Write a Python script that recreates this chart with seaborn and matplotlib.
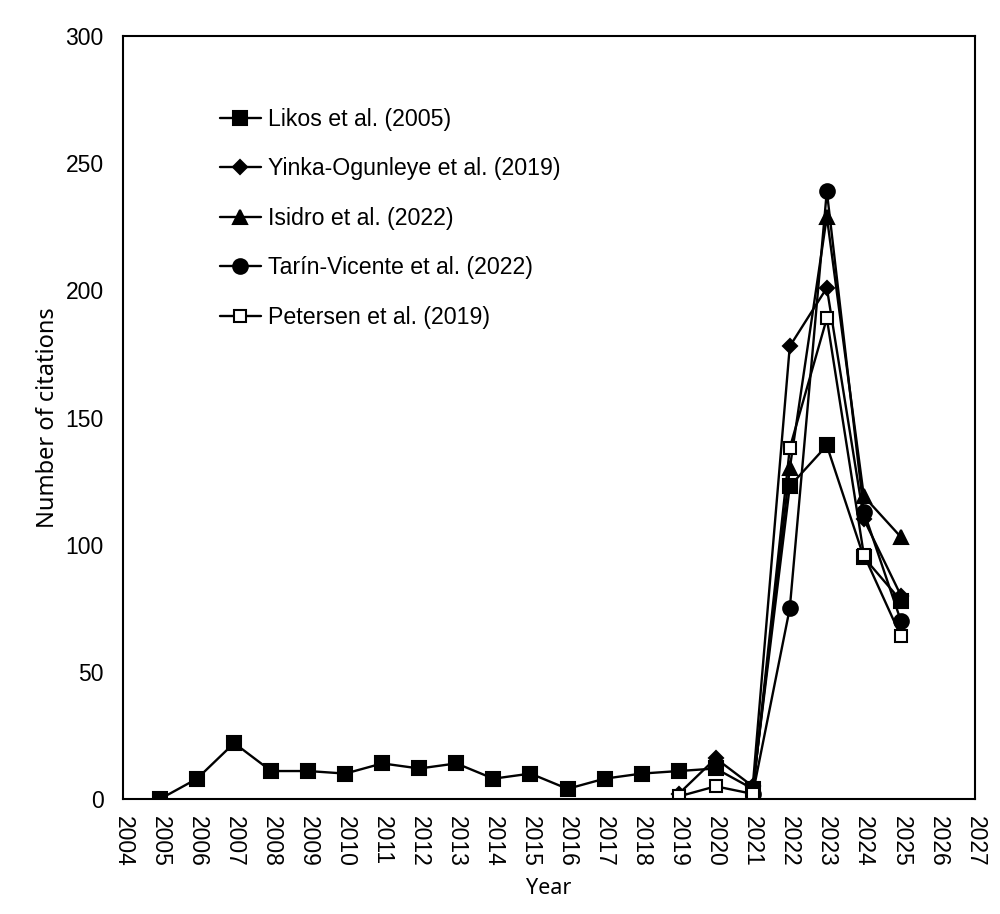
import numpy as np
import pandas as pd
import seaborn as sns
import matplotlib.pyplot as plt

# ---------------- Data (citations per year) ----------------
likos_years = list(range(2005, 2026))
likos_cites = [0, 8, 22, 11, 11, 10, 14, 12, 14, 8, 10, 4, 8, 10, 11, 12, 4, 123, 139, 95, 78]

yinka_years = list(range(2019, 2026))
yinka_cites = [2, 16, 5, 178, 201, 110, 80]

isidro_years = list(range(2021, 2026))
isidro_cites = [3, 130, 229, 119, 103]

tarin_years = list(range(2021, 2026))
tarin_cites = [2, 75, 239, 113, 70]

petersen_years = list(range(2019, 2026))
petersen_cites = [1, 5, 2, 138, 189, 96, 64]

labels = ["Likos et al. (2005)", "Yinka-Ogunleye et al. (2019)", "Isidro et al. (2022)",
          "Tarín-Vicente et al. (2022)", "Petersen et al. (2019)"]

series = [(likos_years, likos_cites), (yinka_years, yinka_cites), (isidro_years, isidro_cites),
          (tarin_years, tarin_cites), (petersen_years, petersen_cites)]

# marker styles: (marker, size, facecolor)
styles = [("s", 10, "black"), ("D", 7.5, "black"), ("^", 10, "black"),
          ("o", 10.5, "black"), ("s", 9, "white")]

# ---------------- Plot ----------------
sns.set_style("white")
plt.rcParams['font.family'] = ['Liberation Sans', 'DejaVu Sans']
plt.rcParams['text.color'] = 'black'
plt.rcParams['xtick.color'] = 'black'
plt.rcParams['ytick.color'] = 'black'
plt.rcParams['axes.labelcolor'] = 'black'

fig = plt.figure(figsize=(10, 9.14), dpi=100)
ax = fig.add_axes([0.123, 0.1258, 0.852, 0.8348])

for (yrs, vals), lab, (mk, ms, fc) in zip(series, labels, styles):
    df = pd.DataFrame({"Year": yrs, "Citations": vals})
    sns.lineplot(data=df, x="Year", y="Citations", ax=ax, color="black", linewidth=1.7,
                 marker=mk, markersize=ms, markerfacecolor=fc, markeredgecolor="black",
                 markeredgewidth=1.5, label=lab)

ax.set_xlim(2004, 2027)
ax.set_ylim(0, 300)
ax.set_xticks(range(2004, 2028))
ax.set_yticks(range(0, 301, 50))
ax.tick_params(axis="x", direction="in", length=7, width=1.5, labelsize=16.5, rotation=270, pad=12)
ax.tick_params(axis="y", direction="in", length=7, width=1.5, labelsize=16.5, pad=14)
for sp in ax.spines.values():
    sp.set_linewidth(1.5)
    sp.set_color("black")

ax.set_xlabel("Year", fontsize=15.5, family=["Noto Sans", "DejaVu Sans"], labelpad=8)
ax.set_ylabel("Number of citations", fontsize=17, family=["Noto Sans", "DejaVu Sans"], labelpad=4)

leg = ax.legend(loc="upper left", bbox_to_anchor=(0.103, 0.918), frameon=False, fontsize=16.7,
                handlelength=1.75, handletextpad=0.3, labelspacing=1.14, borderaxespad=0)

fig.savefig("out.png", dpi=100)
